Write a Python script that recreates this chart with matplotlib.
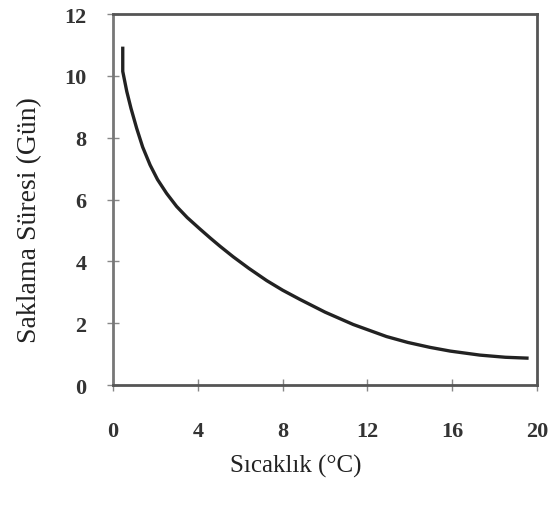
import matplotlib
matplotlib.use("Agg")
import matplotlib.pyplot as plt

# temperature (C) vs storage time (days)
sicaklik = [0.46, 0.46, 0.65, 0.85, 1.12, 1.4, 1.75, 2.1, 2.53, 3.0, 3.5,
            4.1, 4.6, 5.05, 5.67, 6.4, 7.25, 8.0, 8.82, 10.0, 11.33, 12.9,
            13.9, 14.95, 15.9, 17.3, 18.5, 19.6]
sure = [10.95, 10.15, 9.5, 8.95, 8.3, 7.7, 7.12, 6.65, 6.2, 5.78, 5.42,
        5.05, 4.75, 4.49, 4.15, 3.78, 3.38, 3.07, 2.77, 2.36, 1.96, 1.57,
        1.38, 1.22, 1.10, 0.97, 0.90, 0.87]

xticks = [0, 4, 8, 12, 16, 20]
yticks = [0, 2, 4, 6, 8, 10, 12]

plt.rcParams['font.family'] = ['Liberation Serif', 'DejaVu Serif']

fig = plt.figure(figsize=(5.52, 5.06), dpi=100)
ax = fig.add_axes([0.2047, 0.237, 0.7683, 0.733])

ax.plot(sicaklik, sure, color='#222222', linewidth=2.4,
        solid_joinstyle='round', solid_capstyle='butt')

ax.set_xlim(0, 20)
ax.set_ylim(0, 12)
ax.set_xticks(xticks)
ax.set_yticks(yticks)
ax.set_xticklabels([str(t) for t in xticks], fontsize=16, fontweight='bold', color='#333333')
ax.set_yticklabels([str(t) for t in yticks], fontsize=16, fontweight='bold', color='#333333')
ax.tick_params(axis='x', direction='inout', length=8, width=1, color='#888888', pad=22)
ax.tick_params(axis='y', direction='inout', length=8, width=1, color='#888888', pad=15)

for side in ['top', 'right', 'bottom']:
    ax.spines[side].set_color('#555555')
    ax.spines[side].set_linewidth(2)
ax.spines['left'].set_color('#777777')
ax.spines['left'].set_linewidth(2)
ax.spines['left'].set_linestyle((0, (2, 1)))

ax.set_xlabel('Sıcaklık (°C)', fontsize=18, color='#222222')
ax.set_ylabel('Saklama Süresi (Gün)', fontsize=20, color='#222222')
ax.xaxis.set_label_coords(0.432, -0.185)
ax.yaxis.set_label_coords(-0.167, 0.447)

fig.savefig('out.png', dpi=100)
